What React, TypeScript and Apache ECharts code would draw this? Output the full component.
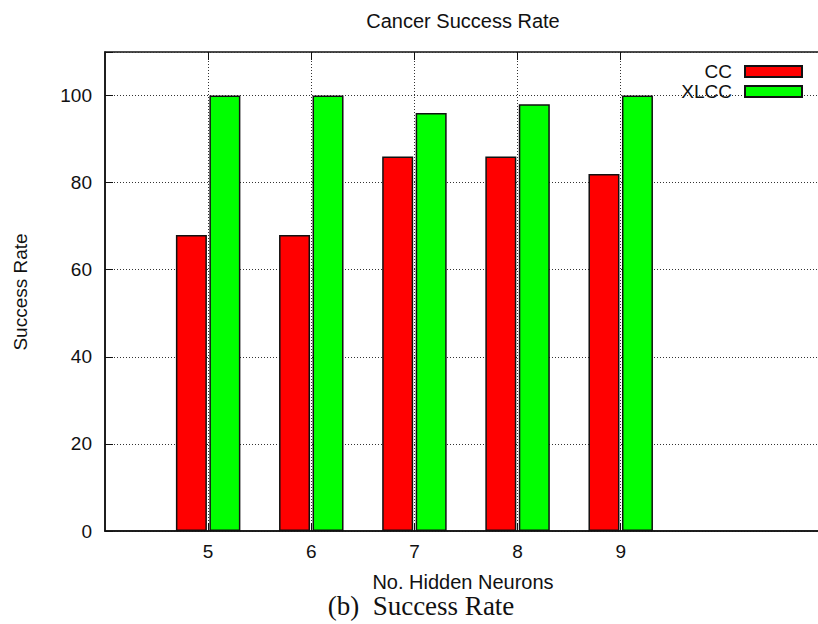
import React, { useEffect, useRef } from "react";
import * as echarts from "echarts";

const categories = ["4", "5", "6", "7", "8", "9", "10", "11"];
const shownCategories = ["5", "6", "7", "8", "9"];
const ccValues = [null, 68, 68, 86, 86, 82, null, null];
const xlccValues = [null, 100, 100, 96, 98, 100, null, null];
const seriesNames = ["CC", "XLCC"];
const titleText = "Cancer Success Rate";
const xName = "No. Hidden Neurons";
const yName = "Success Rate";
const captionText = "(b)  Success Rate";

const SANS = "'Liberation Sans', Arial, Helvetica, sans-serif";
const SERIF = "'Liberation Serif', 'DejaVu Serif', serif";

export default function App() {
  const ref = useRef<HTMLDivElement>(null);
  useEffect(() => {
    if (!ref.current) return;
    const chart = echarts.init(ref.current, null, { renderer: "svg" });
    const show = (_i: number, v: string) => shownCategories.includes(v);
    const gridLine = { show: true, lineStyle: { color: "#333", type: [1, 2], width: 1 } };
    chart.setOption({
      animation: false,
      backgroundColor: "#fff",
      grid: {
        left: 105,
        right: 18,
        top: 52,
        bottom: 93,
        show: true,
        borderColor: "#111",
        borderWidth: 1.5,
        containLabel: false,
      },
      legend: {
        data: seriesNames,
        orient: "vertical",
        right: 37,
        top: 57,
        align: "right",
        icon: "rect",
        itemWidth: 57,
        itemHeight: 11,
        itemGap: 1,
        textStyle: { fontFamily: SANS, fontSize: 19, color: "#111", padding: [0, 8, 0, 0] },
      },
      xAxis: [
        {
          type: "category",
          data: categories,
          boundaryGap: false,
          axisLine: { show: true, lineStyle: { color: "#111", width: 1.5 } },
          axisTick: { show: true, inside: true, length: 8, interval: show, lineStyle: { color: "#111" } },
          axisLabel: { interval: show, margin: 11, fontFamily: SANS, fontSize: 19, color: "#111" },
          splitLine: { ...gridLine, interval: show },
        },
        {
          type: "category",
          data: categories,
          boundaryGap: false,
          position: "top",
          axisLine: { show: false },
          axisTick: { show: true, inside: true, length: 8, interval: show, lineStyle: { color: "#111" } },
          axisLabel: { show: false },
          splitLine: { show: false },
        },
      ],
      yAxis: {
        type: "value",
        min: 0,
        max: 110,
        interval: 20,
        axisLine: { show: true, lineStyle: { color: "#111", width: 1.5 } },
        axisTick: { show: true, inside: true, length: 8, lineStyle: { color: "#111" } },
        axisLabel: {
          margin: 13,
          fontFamily: SANS,
          fontSize: 19,
          color: "#111",
          formatter: (v: number) => (v > 100 ? "" : String(v)),
        },
        splitLine: gridLine,
      },
      series: [
        {
          name: seriesNames[0],
          type: "bar",
          data: ccValues,
          barWidth: 31,
          barGap: "8%",
          itemStyle: { color: "#ff0000", borderColor: "#111", borderWidth: 1.5 },
        },
        {
          name: seriesNames[1],
          type: "bar",
          data: xlccValues,
          barWidth: 31,
          barGap: "8%",
          itemStyle: { color: "#00ff00", borderColor: "#111", borderWidth: 1.5 },
        },
      ],
      graphic: [
        {
          type: "text",
          x: 463,
          y: 21,
          style: { text: titleText, fontFamily: SANS, fontSize: 20, fill: "#111", align: "center", verticalAlign: "middle" },
        },
        {
          type: "text",
          x: 463,
          y: 582,
          style: { text: xName, fontFamily: SANS, fontSize: 20, fill: "#111", align: "center", verticalAlign: "middle" },
        },
        {
          type: "text",
          x: 20,
          y: 292,
          rotation: Math.PI / 2,
          style: { text: yName, fontFamily: SANS, fontSize: 19, fill: "#111", align: "center", verticalAlign: "middle" },
        },
        {
          type: "text",
          x: 421,
          y: 606,
          style: { text: captionText, fontFamily: SERIF, fontSize: 27, fill: "#111", align: "center", verticalAlign: "middle" },
        },
      ],
    });
    return () => chart.dispose();
  }, []);
  return (
    <div style={{ position: "absolute", left: 0, top: 0, width: 818, height: 624, overflow: "hidden" }}>
      <div ref={ref} style={{ width: 845, height: 624 }} />
    </div>
  );
}
